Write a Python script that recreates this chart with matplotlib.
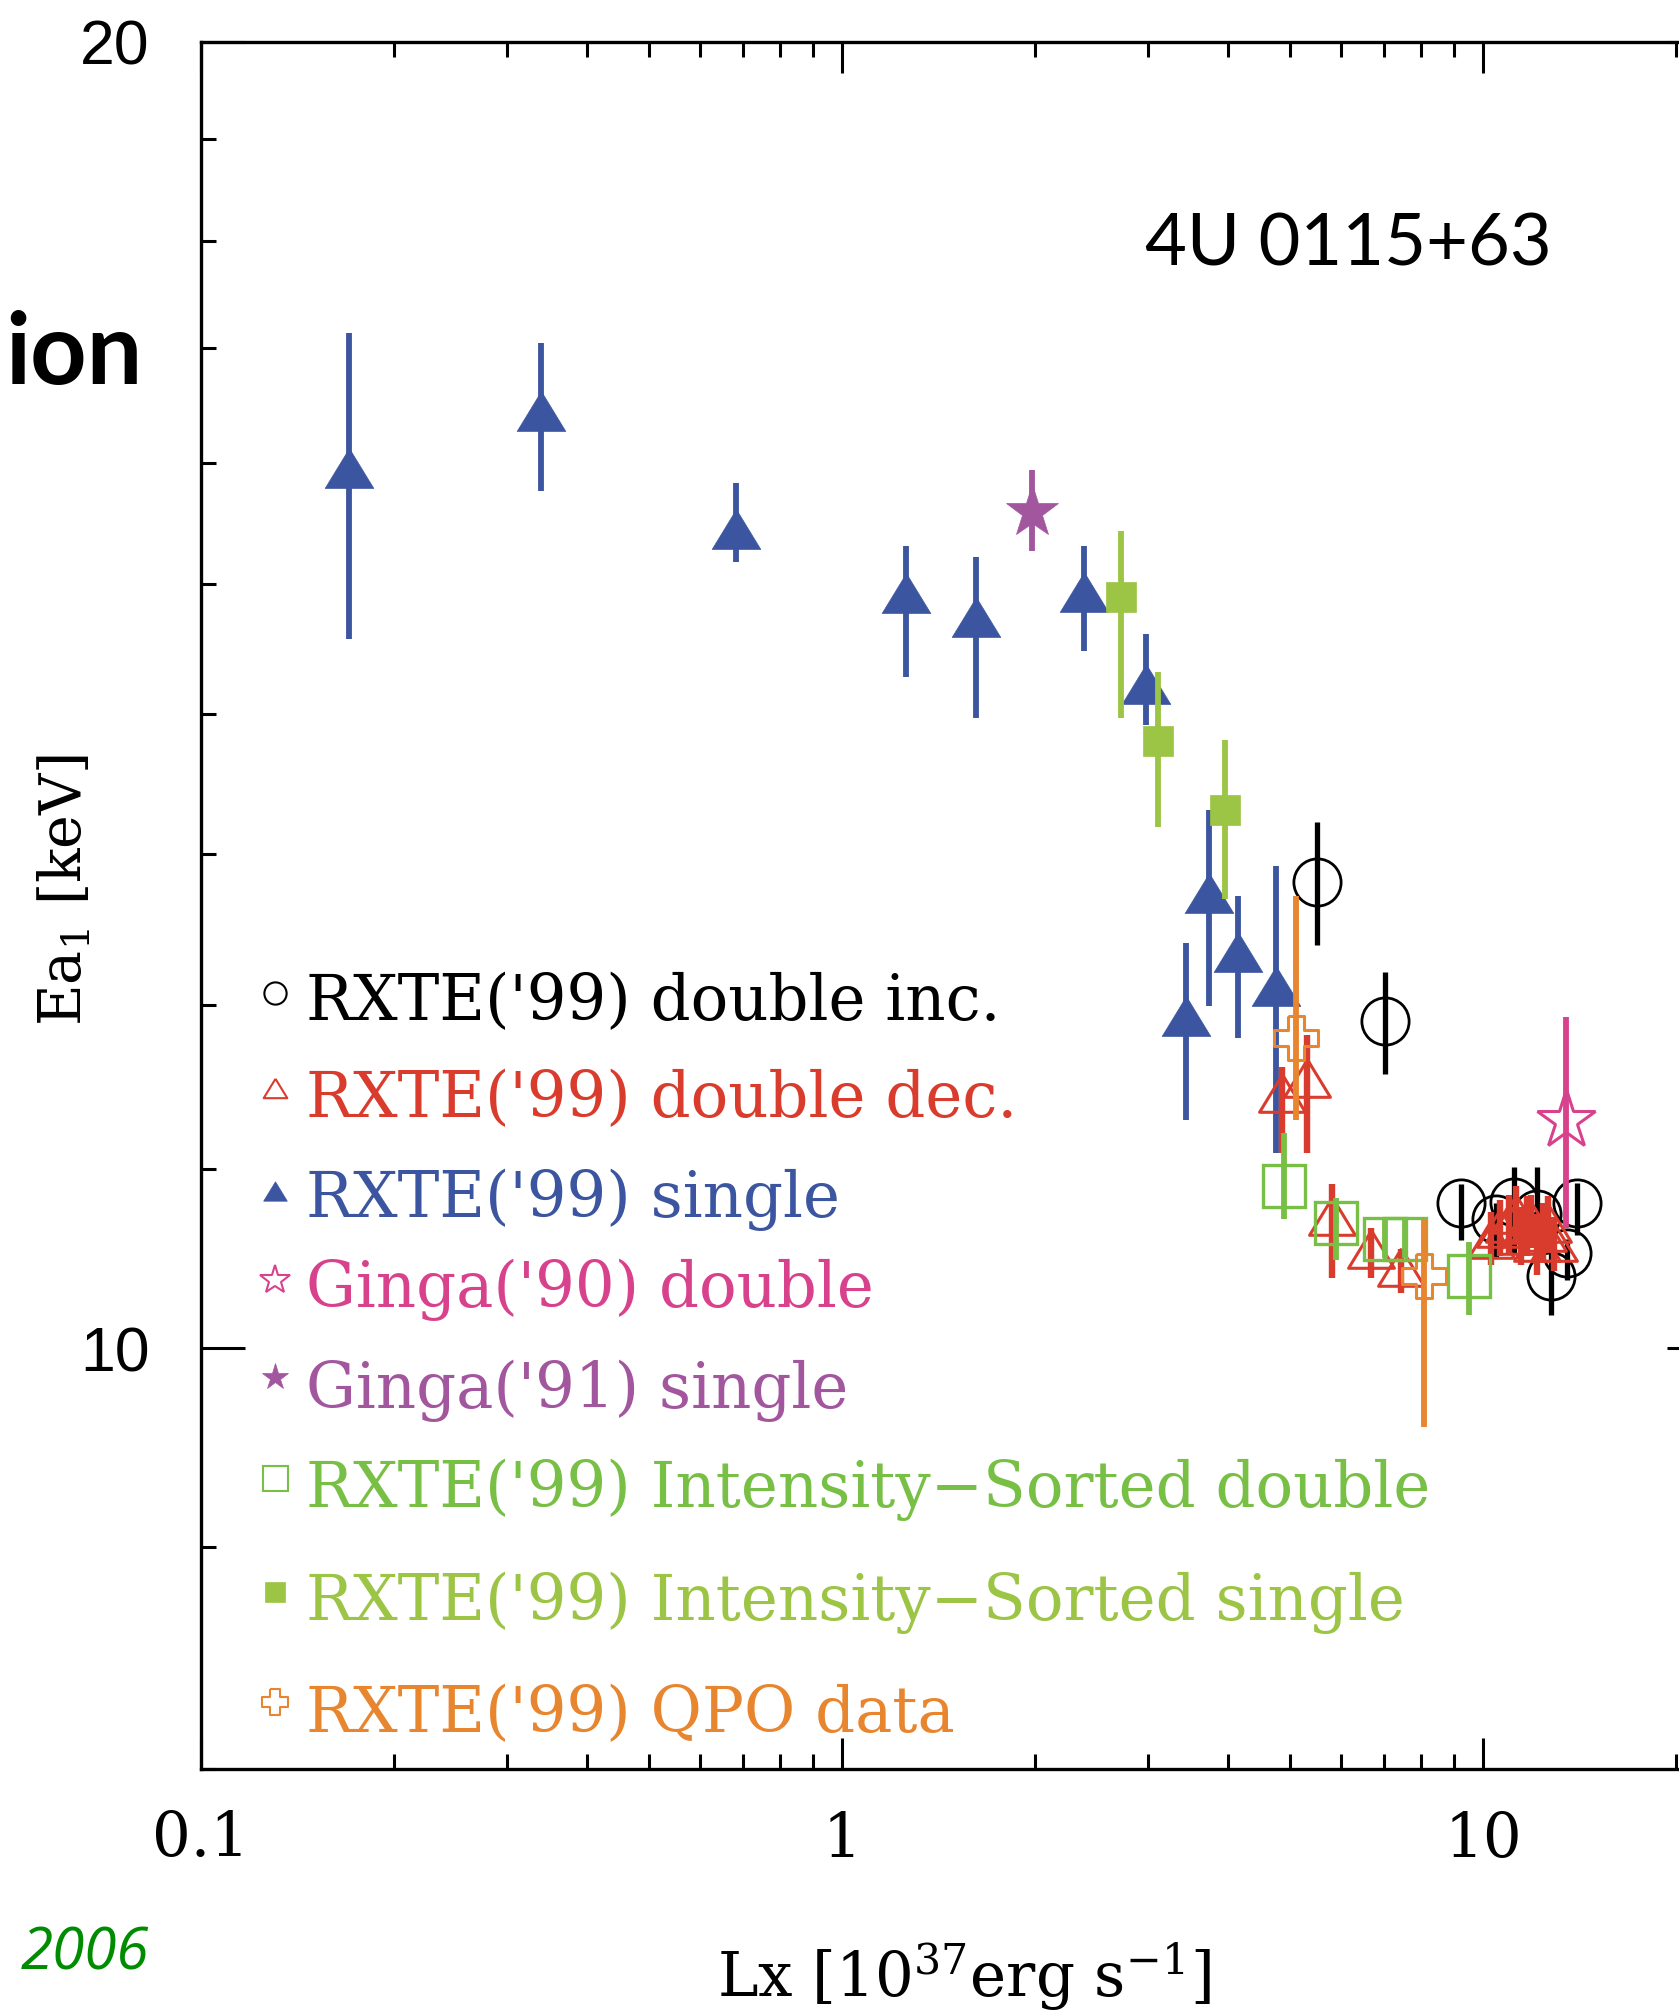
import numpy as np
import matplotlib
matplotlib.use('Agg')
import matplotlib.pyplot as plt
from matplotlib.lines import Line2D
from matplotlib.ticker import FixedLocator, FixedFormatter, NullFormatter

W, H = 1679, 2011
DPI = 100

# values: Lx [1e37 erg/s], Ea1 [keV], lower / upper end of the error bar
single_lx = [0.170, 0.339, 0.683, 1.258, 1.618, 2.385, 2.981, 3.737, 4.147, 4.754, 3.441]
single_e = [15.95, 16.44, 15.45, 14.93, 14.74, 14.94, 14.23, 12.73, 12.34, 12.12, 11.93]
single_lo = [14.57, 15.76, 15.18, 14.28, 13.97, 14.48, 13.92, 11.99, 11.79, 11.09, 11.29]
single_hi = [17.14, 17.05, 15.83, 15.31, 15.22, 15.31, 14.61, 13.31, 12.71, 12.92, 12.40]

ginga91_lx = [1.98]
ginga91_e = [15.59]
ginga91_lo = [15.27]
ginga91_hi = [15.94]

is_single_lx = [2.72, 3.11, 3.96]
is_single_e = [14.90, 13.80, 13.31]
is_single_lo = [13.97, 13.19, 12.69]
is_single_hi = [15.43, 14.32, 13.81]

inc_lx = [5.51, 7.03, 9.24, 11.18, 12.14, 14.02, 10.48, 12.77, 13.52]
inc_e = [12.81, 11.90, 10.80, 10.81, 10.74, 10.80, 10.71, 10.39, 10.52]
inc_lo = [12.39, 11.57, 10.59, 10.52, 10.56, 10.62, 10.49, 10.18, 10.37]
inc_hi = [13.22, 12.21, 10.91, 11.01, 11.01, 10.92, 10.80, 10.54, 10.60]

is_double_lx = [4.89, 5.90, 7.03, 7.56, 9.51]
is_double_e = [10.90, 10.69, 10.60, 10.60, 10.39]
is_double_lo = [10.71, 10.48, 10.49, 10.49, 10.18]
is_double_hi = [11.21, 10.83, 10.71, 10.71, 10.58]

dec_lx = [4.86, 5.31, 5.81, 6.69, 7.45, 10.29, 10.65, 10.98, 11.25, 11.46, 11.70,
          11.90, 12.15, 12.40, 12.65, 12.90]
dec_e = [11.45, 11.54, 10.73, 10.54, 10.44, 10.60, 10.66, 10.69, 10.74, 10.62, 10.68,
         10.70, 10.58, 10.64, 10.69, 10.58]
dec_lo = [11.09, 11.09, 10.38, 10.38, 10.30, 10.45, 10.50, 10.52, 10.58, 10.45, 10.50,
          10.55, 10.40, 10.47, 10.52, 10.42]
dec_hi = [11.61, 11.81, 10.91, 10.66, 10.54, 10.75, 10.82, 10.85, 10.90, 10.78, 10.84,
          10.85, 10.74, 10.80, 10.84, 10.72]

qpo_lx = [5.11, 8.09]
qpo_e = [11.79, 10.39]
qpo_lo = [11.29, 9.59]
qpo_hi = [12.71, 10.71]

ginga90_lx = [13.47]
ginga90_e = [11.29]
ginga90_lo = [10.66]
ginga90_hi = [11.92]

legend_labels = ["RXTE('99) double inc.", "RXTE('99) double dec.", "RXTE('99) single",
                 "Ginga('90) double", "Ginga('91) single",
                 "RXTE('99) Intensity\u2212Sorted double", "RXTE('99) Intensity\u2212Sorted single",
                 "RXTE('99) QPO data"]

c_black = 'black'
c_red = '#d93b2c'
c_blue = '#3b55a0'
c_pink = '#d8428d'
c_purple = '#a2569e'
c_green_open = '#78bf45'
c_green_fill = '#9cc445'
c_orange = '#e8852f'

tri = [(0, 0.82), (-1, -0.82), (1, -0.82), (0, 0.82)]
t = 0.36
cross = [(-t, 1), (t, 1), (t, t), (1, t), (1, -t), (t, -t), (t, -1), (-t, -1),
         (-t, -t), (-1, -t), (-1, t), (-t, t), (-t, 1)]

plt.rcParams['mathtext.fontset'] = 'dejavuserif'

def px(x, y):
    return x / W, 1 - y / H

fig = plt.figure(figsize=(W / DPI, H / DPI), dpi=DPI)
l, top = px(201, 42)
r, b = px(1711, 1769)
ax = fig.add_axes([l, b, r - l, top - b])
ax.set_xscale('log')
ax.set_yscale('log')
ax.set_xlim(0.1, 22.69)
ax.set_ylim(8.0, 20.0)

def draw(lx, e, lo, hi, color, marker, ms, filled, mew=2.2, elw=4.2, z=3):
    lx = np.array(lx)
    e = np.array(e)
    yerr = [e - np.array(lo), np.array(hi) - e]
    ax.errorbar(lx, e, yerr=yerr, fmt='none', ecolor=color, elinewidth=elw,
                capsize=0, zorder=z)
    ax.plot(lx, e, linestyle='none', marker=marker, ms=ms,
            mfc=color if filled else 'none', mec=color,
            mew=0.5 if filled else mew, zorder=z + 0.1)

draw(single_lx, single_e, single_lo, single_hi, c_blue, tri, 35, True, z=3)
draw(ginga91_lx, ginga91_e, ginga91_lo, ginga91_hi, c_purple, '*', 40, True, z=3)
draw(is_single_lx, is_single_e, is_single_lo, is_single_hi, c_green_fill, 's', 21, True, z=4)
draw(inc_lx, inc_e, inc_lo, inc_hi, c_black, 'o', 34, False, mew=2.0, elw=3.8, z=5)
draw(dec_lx, dec_e, dec_lo, dec_hi, c_red, tri, 33, False, mew=2.2, elw=4.6, z=6)
draw(is_double_lx, is_double_e, is_double_lo, is_double_hi, c_green_open, 's', 30, False, mew=2.4, z=7)
draw(qpo_lx, qpo_e, qpo_lo, qpo_hi, c_orange, cross, 32, False, mew=2.2, z=8)
draw(ginga90_lx, ginga90_e, ginga90_lo, ginga90_hi, c_pink, '*', 44, False, mew=2.2, z=9)

# axes and ticks
for s in ax.spines.values():
    s.set_linewidth(2.4)
ax.xaxis.set_major_locator(FixedLocator([0.1, 1, 10]))
ax.xaxis.set_major_formatter(FixedFormatter(['0.1', '1', '10']))
ax.xaxis.set_minor_locator(FixedLocator([0.2, 0.3, 0.4, 0.5, 0.6, 0.7, 0.8, 0.9,
                                         2, 3, 4, 5, 6, 7, 8, 9, 20]))
ax.xaxis.set_minor_formatter(NullFormatter())
ax.yaxis.set_major_locator(FixedLocator([10, 20]))
ax.yaxis.set_major_formatter(FixedFormatter(['10', '20']))
ax.yaxis.set_minor_locator(FixedLocator([8, 9, 11, 12, 13, 14, 15, 16, 17, 18, 19]))
ax.yaxis.set_minor_formatter(NullFormatter())
ax.tick_params(which='both', direction='in', top=True, right=True, width=2.2)
ax.tick_params(which='minor', length=11)
ax.xaxis.set_tick_params(which='major', length=22, pad=29)
ax.yaxis.set_tick_params(which='major', length=32, pad=37)
for lab in ax.get_xticklabels():
    lab.set_fontfamily('DejaVu Serif')
    lab.set_fontsize(44)
for lab in ax.get_yticklabels():
    lab.set_fontfamily('Liberation Sans')
    lab.set_fontsize(45)

# legend written inside the frame
legend_colors = [c_black, c_red, c_blue, c_pink, c_purple, c_green_open, c_green_fill, c_orange]
legend_marks = ['o', tri, tri, '*', '*', 's', 's', cross]
legend_filled = [False, False, True, False, True, False, True, False]
legend_ms = [16, 17, 17, 22, 20, 18, 15, 19]
base_y = [1020, 1117, 1217, 1307, 1408, 1507, 1620, 1732]
mark_y = [993, 1088, 1191, 1280, 1377, 1478, 1592, 1702]
for i, label in enumerate(legend_labels):
    c = legend_colors[i]
    mx, my = px(275, mark_y[i])
    fig.add_artist(Line2D([mx], [my], transform=fig.transFigure, linestyle='none',
                          marker=legend_marks[i], ms=legend_ms[i],
                          mfc=c if legend_filled[i] else 'none', mec=c,
                          mew=0.5 if legend_filled[i] else 1.5))
    tx, ty = px(306, base_y[i])
    fig.text(tx, ty, label, color=c, family='DejaVu Serif', fontsize=45,
             ha='left', va='baseline')

# labels and slide leftovers
x0, y0 = px(964, 1997)
fig.text(x0, y0, r'Lx [10$^{37}$erg s$^{-1}$]', family='DejaVu Serif', fontsize=44,
         ha='center', va='baseline')
x0, y0 = px(64, 890)
fig.text(x0, y0, r'Ea$_1$ [keV]', family='DejaVu Serif', fontsize=41,
         rotation=90, ha='center', va='center')
x0, y0 = px(1145, 265)
fig.text(x0, y0, '4U 0115+63', family='Lato', fontsize=52, ha='left', va='baseline')
x0, y0 = px(5, 384)
fig.text(x0, y0, 'ion', family='Lato', weight='bold', fontsize=71,
         ha='left', va='baseline')
x0, y0 = px(21, 1970)
fig.text(x0, y0, '2006', family='Open Sans', style='italic', color='#008c00',
         fontsize=42, ha='left', va='baseline')

fig.savefig('out.png', dpi=DPI)
